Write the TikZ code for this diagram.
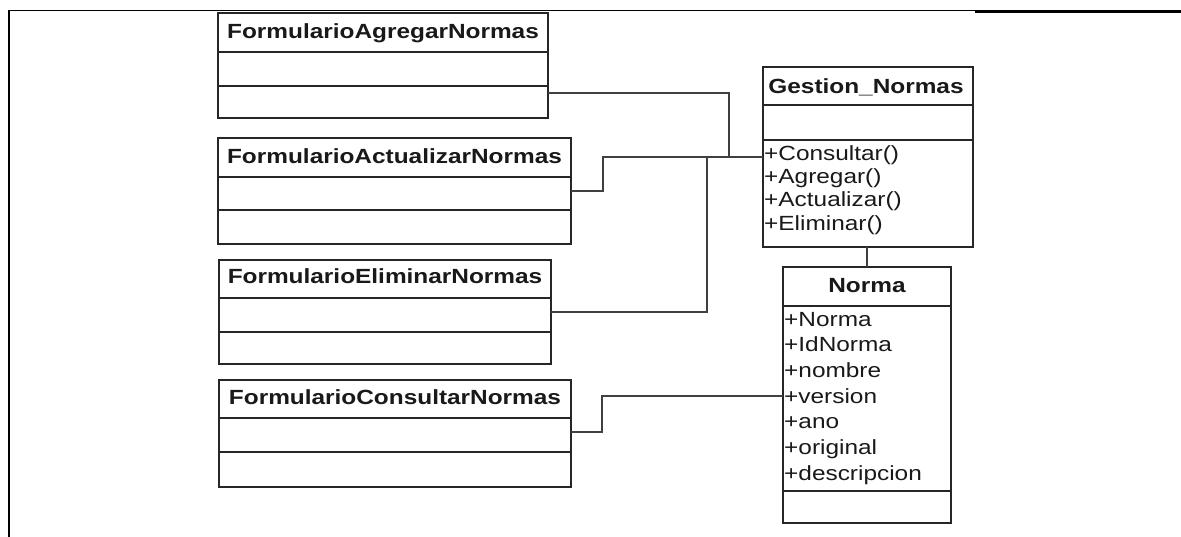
\documentclass[tikz,border=0pt]{standalone}
\usepackage{fontspec}
\setmainfont{Liberation Sans}[FakeStretch=1.19]
\begin{document}
\begin{tikzpicture}[x=1pt,y=-1pt,
  umlbox/.style={draw=black!85,line width=1.8pt,fill=white,anchor=north west,
    inner sep=0pt,outer sep=0pt},
  sep/.style={draw=black!85,line width=1.6pt},
  title/.style={font=\fontsize{20.5}{24}\selectfont\bfseries,anchor=base,inner sep=0pt,text=black!90},
  member/.style={font=\fontsize{20.5}{24}\selectfont,anchor=base west,inner sep=0pt,text=black!90},
  link/.style={draw=black!75,line width=1.9pt},
  frame/.style={draw=black,line cap=rect}]
\useasboundingbox (0,0) rectangle (1181,536);

% page frame
\coordinate (fb) at (9,536);
\coordinate (ft) at (9,10.5);
\coordinate (fm) at (975,10.5);
\coordinate (fm2) at (975,11.3);
\coordinate (fr) at (1181,11.3);
\draw[frame,line width=1.8pt] (fb) -- (ft);
\draw[frame,line width=1.1pt] (ft) -- (fm);
\draw[frame,line width=2.4pt,line cap=butt] (fm2) -- (fr);

% form classes
\node[umlbox,minimum width=330pt,minimum height=105pt] (agregar) at (218,13) {};
\draw[sep] ([yshift=-39pt]agregar.north west) -- ([yshift=-39pt]agregar.north east);
\draw[sep] ([yshift=-73pt]agregar.north west) -- ([yshift=-73pt]agregar.north east);
\node[title] (agregarT) at (383,38) {FormularioAgregarNormas};

\node[umlbox,minimum width=353pt,minimum height=106pt] (actualizar) at (218,138) {};
\draw[sep] ([yshift=-39pt]actualizar.north west) -- ([yshift=-39pt]actualizar.north east);
\draw[sep] ([yshift=-72pt]actualizar.north west) -- ([yshift=-72pt]actualizar.north east);
\node[title] (actualizarT) at (394.5,163) {FormularioActualizarNormas};

\node[umlbox,minimum width=332pt,minimum height=104pt] (eliminar) at (219,260) {};
\draw[sep] ([yshift=-38pt]eliminar.north west) -- ([yshift=-38pt]eliminar.north east);
\draw[sep] ([yshift=-72pt]eliminar.north west) -- ([yshift=-72pt]eliminar.north east);
\node[title] (eliminarT) at (385,283) {FormularioEliminarNormas};

\node[umlbox,minimum width=352pt,minimum height=107pt] (consultar) at (219,380) {};
\draw[sep] ([yshift=-38pt]consultar.north west) -- ([yshift=-38pt]consultar.north east);
\draw[sep] ([yshift=-72pt]consultar.north west) -- ([yshift=-72pt]consultar.north east);
\node[title] (consultarT) at (395,404) {FormularioConsultarNormas};

% controller class
\node[umlbox,minimum width=210pt,minimum height=180pt] (gestion) at (763,67) {};
\draw[sep] ([yshift=-38pt]gestion.north west) -- ([yshift=-38pt]gestion.north east);
\draw[sep] ([yshift=-73pt]gestion.north west) -- ([yshift=-73pt]gestion.north east);
\node[title] (gestionT) at (866,93) {Gestion\_Normas};
\node[member] (m1) at (764,160) {+Consultar()};
\node[member] (m2) at (764,183.3) {+Agregar()};
\node[member] (m3) at (764,206.7) {+Actualizar()};
\node[member] (m4) at (764,230) {+Eliminar()};

% entity class
\node[umlbox,minimum width=168pt,minimum height=256pt] (norma) at (783,267) {};
\draw[sep] ([yshift=-39pt]norma.north west) -- ([yshift=-39pt]norma.north east);
\draw[sep] ([yshift=-224pt]norma.north west) -- ([yshift=-224pt]norma.north east);
\node[title] (normaT) at (867,292) {Norma};
\node[member] (a1) at (784,326) {+Norma};
\node[member] (a2) at (784,351.7) {+IdNorma};
\node[member] (a3) at (784,377.4) {+nombre};
\node[member] (a4) at (784,403) {+version};
\node[member] (a5) at (784,428.7) {+ano};
\node[member] (a6) at (784,454.4) {+original};
\node[member] (a7) at (784,480) {+descripcion};

% connectors
\coordinate (bendA) at (729,157);
\coordinate (bendB) at (603,157);
\coordinate (bendC) at (707,157);
\coordinate (bendD) at (602,396);

\draw[link] (agregar.east |- 0,93) -| (bendA) -- (gestion.west |- bendA);
\draw[link] (actualizar.east |- 0,191) -| (bendB) -- (gestion.west |- bendB);
\draw[link] (eliminar.east |- 0,312) -| (bendC) -- (gestion.west |- bendC);
\draw[link] (consultar.east |- 0,432) -| (bendD) -- (norma.west |- bendD);
\draw[link] (gestion.south -| 867,0) -- (norma.north -| 867,0);
\end{tikzpicture}
\end{document}
